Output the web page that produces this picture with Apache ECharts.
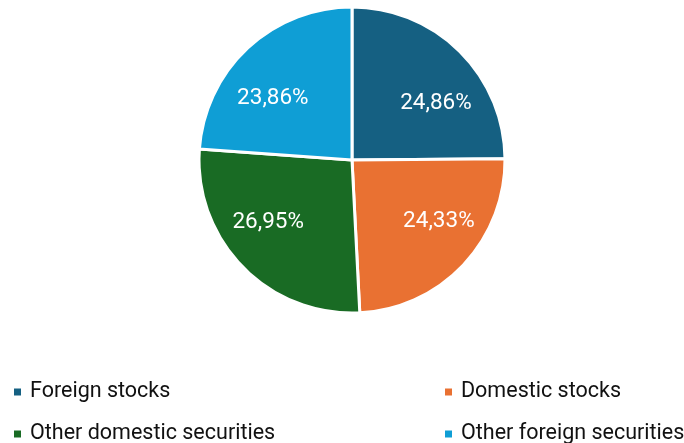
<!DOCTYPE html>
<html>
<head>
<meta charset="utf-8">
<script src="https://cdn.jsdelivr.net/npm/echarts@6/dist/echarts.min.js"></script>
<style>
  html, body { margin: 0; padding: 0; background: #fff; }
  #chart { width: 684px; height: 443px; }
</style>
</head>
<body>
<div id="chart"></div>
<script>
// Portfolio split by asset class (percent)
const categories = ['Foreign stocks', 'Domestic stocks', 'Other domestic securities', 'Other foreign securities'];
const shares = [24.86, 24.33, 26.95, 23.86];
const colors = ['#156082', '#E97132', '#196B24', '#0F9ED5'];
// Nudges that push each inner label towards the outer part of its slice
const labelNudges = [[28, 0], [29, 7], [-27, 7], [-25, -3]];

const fontFamily = 'Roboto, "Liberation Sans", Arial, sans-serif';

const chart = echarts.init(document.getElementById('chart'), null, { renderer: 'canvas' });

const pieData = categories.map((name, i) => ({
  name: name,
  value: shares[i],
  itemStyle: { color: colors[i] },
  label: { offset: labelNudges[i] }
}));

// One small legend per category so the two-column grid can be placed freely
const legendSlots = [
  { left: 12, top: 381 },
  { left: 443, top: 381 },
  { left: 12, top: 423 },
  { left: 443, top: 423 }
];
const legends = categories.map((name, i) => ({
  data: [name],
  left: legendSlots[i].left,
  top: legendSlots[i].top,
  padding: 0,
  icon: 'rect',
  itemWidth: 9,
  itemHeight: 9,
  selectedMode: false,
  textStyle: {
    fontFamily: fontFamily,
    fontSize: 21.5,
    color: '#111111',
    padding: [0, 0, 0, 3]
  }
}));

chart.setOption({
  backgroundColor: '#ffffff',
  animation: false,
  legend: legends,
  series: [{
    type: 'pie',
    center: [352, 160],
    radius: [0, 153],
    startAngle: 90,
    clockwise: true,
    avoidLabelOverlap: false,
    itemStyle: { borderColor: '#ffffff', borderWidth: 3 },
    label: {
      show: true,
      position: 'inside',
      color: '#ffffff',
      fontFamily: fontFamily,
      fontSize: 22.5,
      formatter: p => p.value.toFixed(2).replace('.', ',') + '%'
    },
    labelLine: { show: false },
    emphasis: { disabled: true },
    data: pieData
  }]
});
</script>
</body>
</html>
